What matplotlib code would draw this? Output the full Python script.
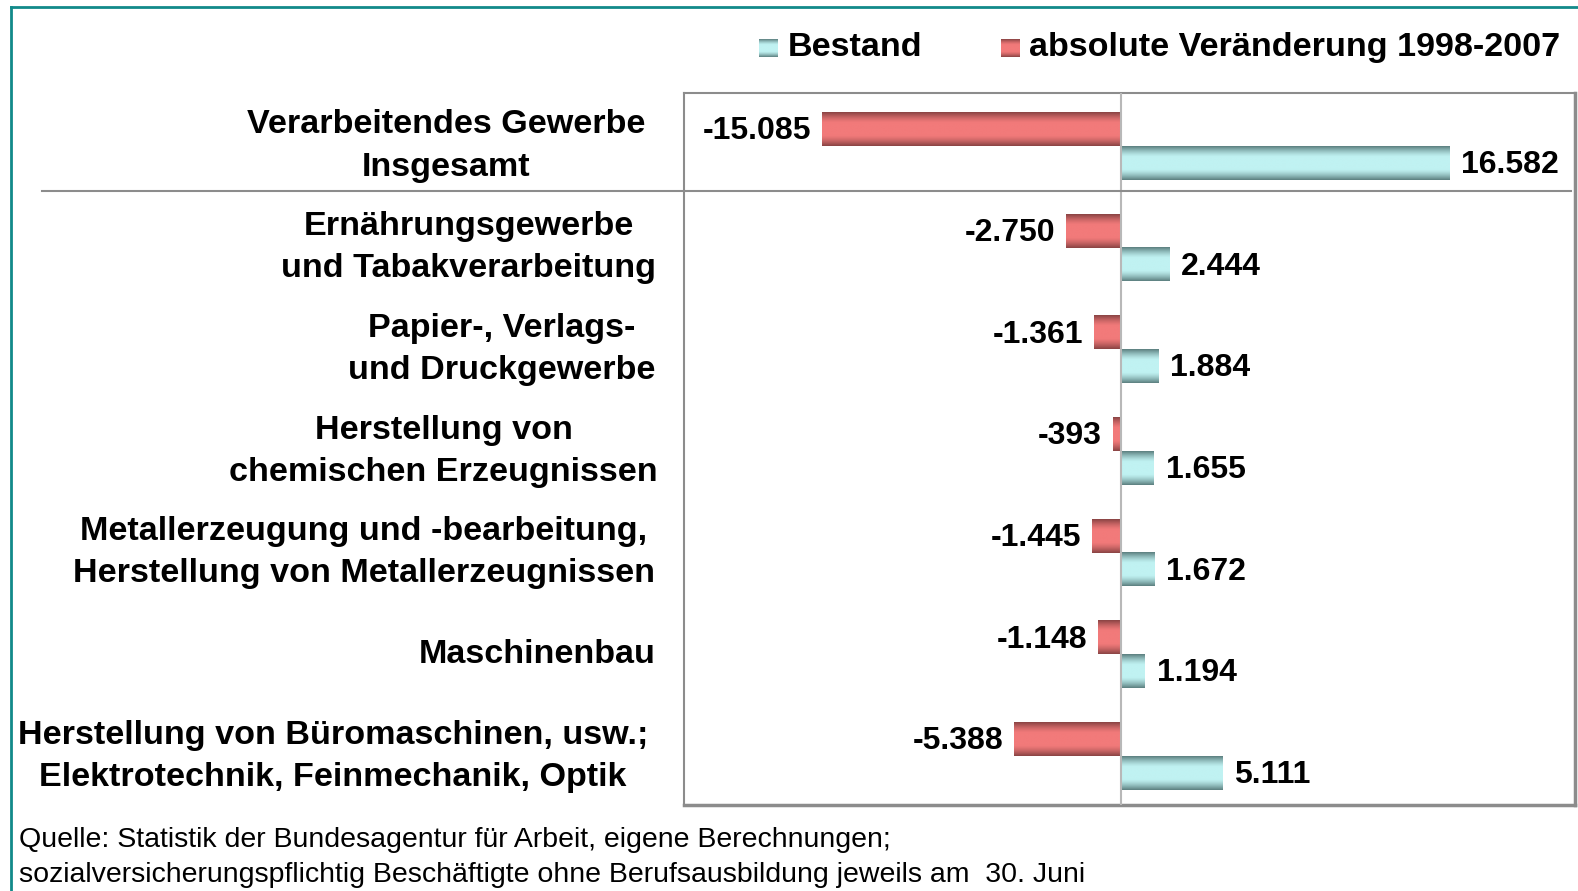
import numpy as np
import matplotlib
matplotlib.use("Agg")
import matplotlib.pyplot as plt
from matplotlib.lines import Line2D
from matplotlib.colors import to_rgb
from matplotlib.transforms import blended_transform_factory

# ---------------- data ----------------
categories = [
    "Verarbeitendes Gewerbe\nInsgesamt",
    "Ernährungsgewerbe\nund Tabakverarbeitung",
    "Papier-, Verlags-\nund Druckgewerbe",
    "Herstellung von\nchemischen Erzeugnissen",
    "Metallerzeugung und -bearbeitung,\nHerstellung von Metallerzeugnissen",
    "Maschinenbau",
    "Herstellung von Büromaschinen, usw.;\nElektrotechnik, Feinmechanik, Optik",
]
bestand = [16582, 2444, 1884, 1655, 1672, 1194, 5111]
veraenderung = [-15085, -2750, -1361, -393, -1445, -1148, -5388]
series_names = ["Bestand", "absolute Veränderung 1998-2007"]
source_lines = [
    "Quelle: Statistik der Bundesagentur für Arbeit, eigene Berechnungen;",
    "sozialversicherungspflichtig Beschäftigte ohne Berufsausbildung jeweils am  30. Juni",
]

# ---------------- style ----------------
W, H = 1578, 891
FONT = "Liberation Sans"
cyan_mid, cyan_edge = "#C0F2F2", "#5C8080"
red_mid, red_edge = "#F27A7A", "#8A4444"
label_right_px = [645, 656, 655, 658, 655, 656, 648]

plt.rcParams["font.family"] = [FONT, "DejaVu Sans"]

fig = plt.figure(figsize=(W / 100, H / 100), dpi=100)
fig.patch.set_facecolor("white")

ax_l, ax_r, ax_t, ax_b = 684, 1575, 93, 805
ax = fig.add_axes([ax_l / W, 1 - ax_b / H, (ax_r - ax_l) / W, (ax_b - ax_t) / H])


def gradient_img(mid, edge, n=80):
    t = np.linspace(0, 1, n)
    d = np.minimum(t, 1 - t)
    f = np.clip(1 - d / 0.32, 0, 1) ** 1.4
    m = np.array(to_rgb(mid))
    e = np.array(to_rgb(edge))
    col = m[None, :] * (1 - f[:, None]) + e[None, :] * f[:, None]
    return col[:, None, :]


y = np.arange(len(categories))
bh = 0.331
bars_red = ax.barh(y - bh / 2, veraenderung, height=bh, color=red_mid, zorder=2, linewidth=0)
bars_cyan = ax.barh(y + bh / 2, bestand, height=bh, color=cyan_mid, zorder=2, linewidth=0)

img_red = gradient_img(red_mid, red_edge)
img_cyan = gradient_img(cyan_mid, cyan_edge)
for bars, img in ((bars_red, img_red), (bars_cyan, img_cyan)):
    for p in bars.patches:
        x0, w0 = p.get_x(), p.get_width()
        y0, h0 = p.get_y(), p.get_height()
        ax.imshow(img, extent=(x0, x0 + w0, y0 + h0, y0), aspect="auto",
                  interpolation="bilinear", zorder=3)

ax.axvline(0, color="#B8B8B8", lw=1.5, zorder=4)

ax.set_xlim(-22056, 22929)
ax.set_ylim(6.48, -0.521)
ax.set_xticks([])
ax.set_yticks([])
for s in ax.spines.values():
    s.set_color("#8C8C8C")
    s.set_linewidth(1.5)
ax.spines["right"].set_linewidth(2.5)
ax.spines["bottom"].set_linewidth(2.5)


def fmt(v):
    return f"{v:,}".replace(",", ".")


for p, v in zip(bars_red.patches, veraenderung):
    yc = p.get_y() + p.get_height() / 2
    ax.annotate(fmt(v), xy=(v, yc), xytext=(-11, -10), textcoords="offset pixels",
                ha="right", va="baseline", fontsize=23, fontweight="bold", zorder=5)
for p, v in zip(bars_cyan.patches, bestand):
    yc = p.get_y() + p.get_height() / 2
    ax.annotate(fmt(v), xy=(v, yc), xytext=(12, -10), textcoords="offset pixels",
                ha="left", va="baseline", fontsize=23, fontweight="bold", zorder=5)

# category labels
tr = blended_transform_factory(fig.transFigure, ax.transData)
for i, (cat, xr) in enumerate(zip(categories, label_right_px)):
    fig.text(xr / W, i + 0.0, cat, transform=tr, ha="right", va="center",
             multialignment="center", fontsize=24.6, fontweight="bold",
             linespacing=1.46)

# separator line between total and sub-branches
fig.add_artist(Line2D([42 / W, 1571 / W], [0.44, 0.44], transform=tr,
                      color="#8C8C8C", lw=1.5, zorder=6))

# legend (manual)
leg_items = [(series_names[0], img_cyan, 759, 788), (series_names[1], img_red, 1001, 1029)]
for name, img, sx, tx in leg_items:
    lax = fig.add_axes([sx / W, 1 - 57 / H, 19 / W, 18 / H])
    lax.imshow(img, aspect="auto", interpolation="bilinear")
    lax.axis("off")
    fig.text(tx / W, 1 - 56 / H, name, ha="left", va="baseline",
             fontsize=24.6, fontweight="bold")

# source
for k, line in enumerate(source_lines):
    fig.text(19 / W, 1 - (847 + 35 * k) / H, line, ha="left", va="baseline",
             fontsize=20.5)

# teal frame (left & top)
teal = "#128A8A"
fig.add_artist(Line2D([11 / W, 11 / W], [0, 1 - 7 / H], transform=fig.transFigure,
                      color=teal, lw=2.0, solid_capstyle="projecting"))
fig.add_artist(Line2D([11 / W, 1], [1 - 7 / H, 1 - 7 / H], transform=fig.transFigure,
                      color=teal, lw=2.0, solid_capstyle="projecting"))

fig.savefig("out.png", dpi=100, facecolor="white")
